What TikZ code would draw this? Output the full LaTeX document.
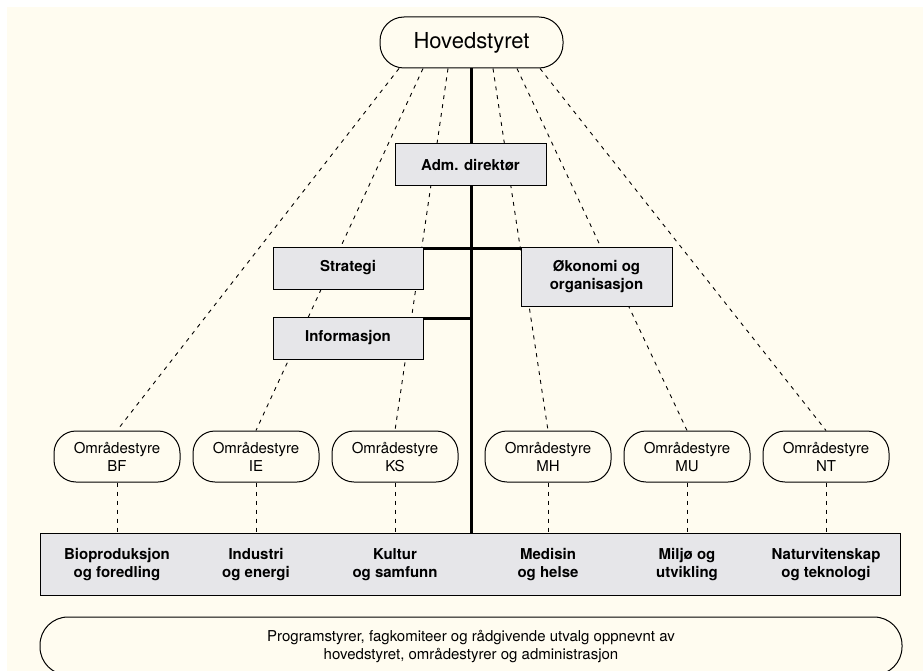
\documentclass[tikz,border=0pt]{standalone}
\usepackage{fontspec}
\setmainfont{TeX Gyre Heros}
\usetikzlibrary{calc}
\definecolor{cream}{RGB}{255,252,240}
\definecolor{boxgray}{RGB}{230,230,233}
\pgfdeclarelayer{bg}
\pgfdeclarelayer{conn}
\pgfsetlayers{bg,conn,main}
\begin{document}
\begin{tikzpicture}[x=1pt,y=-1pt,
  rbox/.style={draw=black,line width=1pt,fill=cream,rounded corners=22pt,minimum width=126pt,minimum height=51pt,inner sep=0pt,align=center,font=\fontsize{15}{18}\selectfont},
  gbox/.style={draw=black,line width=1pt,fill=boxgray,inner sep=0pt,align=center,font=\bfseries\fontsize{15}{18}\selectfont},
  dline/.style={draw=black,line width=0.9pt,dash pattern=on 4pt off 5pt},
  spine/.style={draw=black,line width=3.6pt},
  hline/.style={draw=black,line width=3pt},
  lbl/.style={align=center,font=\bfseries\fontsize{15}{18}\selectfont,inner sep=0pt},
  ptxt/.style={align=center,font=\fontsize{15}{18}\selectfont,inner sep=0pt}
]
\useasboundingbox (0,0) rectangle (923,671);
\begin{pgfonlayer}{bg}
\fill[white] (0,0) rectangle (923,671);
\fill[cream] (7,7) rectangle (923,671);
\end{pgfonlayer}

% top board
\node[draw=black,line width=1pt,fill=cream,rounded corners=24pt,minimum width=183pt,minimum height=51pt,inner sep=0pt,font=\fontsize{22}{26}\selectfont] (hs) at (471.5,42.5) {Hovedstyret};

% administration boxes
\node[gbox,minimum width=151pt,minimum height=42pt] (adm) at (470.5,165) {Adm. direktør};
\node[gbox,minimum width=150pt,minimum height=42pt] (strat) at (348,268) {Strategi};
\node[gbox,minimum width=150pt,minimum height=42pt] (info) at (348,338) {Informasjon};
\node[gbox,minimum width=151pt,minimum height=59pt] (oko) at (596.5,276.5) {Økonomi og\\organisasjon};

% area boards
\node[rbox] (om1) at (117,456.5) {Områdestyre\\BF};
\node[rbox] (om2) at (256,456.5) {Områdestyre\\IE};
\node[rbox] (om3) at (395,456.5) {Områdestyre\\KS};
\node[rbox] (om4) at (548,456.5) {Områdestyre\\MH};
\node[rbox] (om5) at (687,456.5) {Områdestyre\\MU};
\node[rbox] (om6) at (826,456.5) {Områdestyre\\NT};

% divisions
\node[draw=black,line width=1pt,fill=boxgray,minimum width=860pt,minimum height=62pt,inner sep=0pt] (gray) at (470,564) {};
\node[lbl] (d1) at (117,565) {Bioproduksjon\\og foredling};
\node[lbl] (d2) at (256,565) {Industri\\og energi};
\node[lbl] (d3) at (395,565) {Kultur\\og samfunn};
\node[lbl] (d4) at (548,565) {Medisin\\og helse};
\node[lbl] (d5) at (687,565) {Miljø og\\utvikling};
\node[lbl] (d6) at (826,565) {Naturvitenskap\\og teknologi};

% bottom box
\begin{scope}
\clip (0,0) rectangle (923,671);
\node[draw=black,line width=1pt,fill=cream,rounded corners=28pt,minimum width=862pt,minimum height=58pt,inner sep=0pt] (prog) at (471,646) {};
\end{scope}
\node[ptxt] (ptext) at (471,646) {Programstyrer, fagkomiteer og rådgivende utvalg oppnevnt av\\hovedstyret, områdestyrer og administrasjon};

% connectors
\coordinate (h1) at ($(hs.south)+(-72.5,0)$);
\coordinate (h2) at ($(hs.south)+(-48.5,0)$);
\coordinate (h3) at ($(hs.south)+(-23.5,0)$);
\coordinate (h4) at ($(hs.south)+(21.5,0)$);
\coordinate (h5) at ($(hs.south)+(45.5,0)$);
\coordinate (h6) at ($(hs.south)+(68.5,0)$);
\begin{pgfonlayer}{conn}
\draw[dline] (h1) -- (om1.north);
\draw[dline] (h2) -- (om2.north);
\draw[dline] (h3) -- (om3.north);
\draw[dline] (h4) -- (om4.north);
\draw[dline] (h5) -- (om5.north);
\draw[dline] (h6) -- (om6.north);
\foreach \i in {1,...,6} {
  \draw[dline] (om\i.south) -- (om\i.south |- gray.north);
}
\draw[spine] (hs.south) -- (hs.south |- gray.north);
\draw[hline] ([yshift=-2pt]strat.north east) -- ([yshift=-2pt]oko.north west);
\draw[hline] ([yshift=-2pt]info.north east) -- ([yshift=-2pt]info.north east -| hs.south);
\end{pgfonlayer}
\end{tikzpicture}
\end{document}
